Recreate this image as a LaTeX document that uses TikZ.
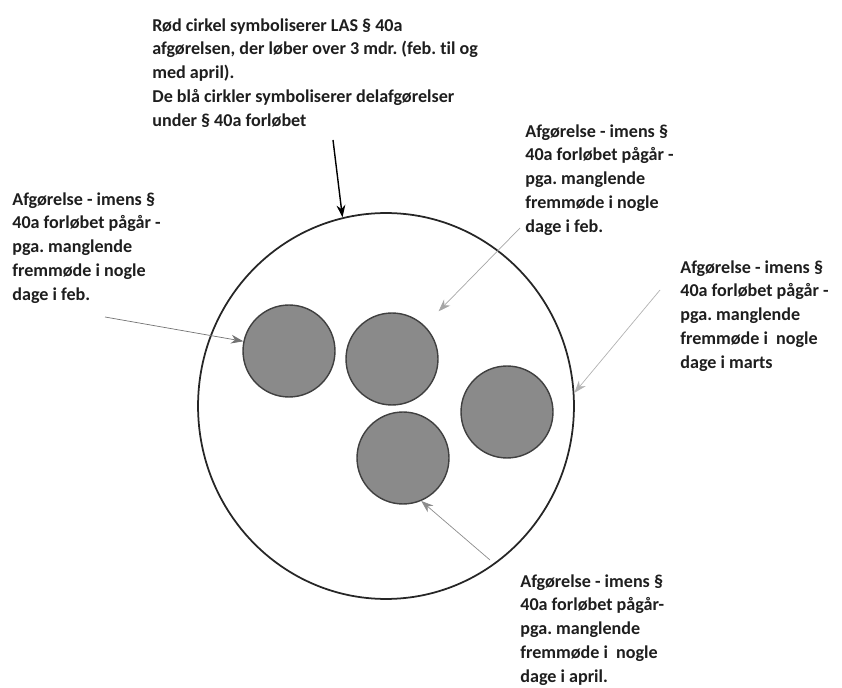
\documentclass[tikz,border=0pt]{standalone}
\usepackage{fontspec}
\setmainfont[Ligatures=NoCommon]{Carlito}
\usetikzlibrary{shapes.geometric, arrows.meta}
\definecolor{textdark}{HTML}{1E1E1E}
\definecolor{discgray}{HTML}{8A8A8A}
\frenchspacing

\begin{document}
\begin{tikzpicture}[x=0.02cm, y=-0.02cm]
      % Styles
      \tikzstyle{note} = [align=left, anchor=north west, inner sep=0pt, text=textdark, font=\bfseries\fontsize{10.3}{13.6}\selectfont]
      \tikzstyle{disc} = [circle, draw=black!75, line width=0.8pt, fill=discgray, minimum size=1.84cm, inner sep=0pt]
      \tikzstyle{pointer} = [-{Stealth[length=7pt, width=5pt]}, thin]

      \useasboundingbox (0, 0) rectangle (842, 688);

      % Big circle (LAS paragraph 40a)
      \node[ellipse, draw=black!85, line width=1pt, minimum width=7.52cm, minimum height=7.72cm, inner sep=0pt] (big) at (386, 406) {};

      % Small circles
      \node[disc] (c1) at (289, 351) {};
      \node[disc] (c2) at (392, 359) {};
      \node[disc] (c3) at (507, 412) {};
      \node[disc] (c4) at (403, 458) {};

      % Texts
      \node[note] (top) at (152, 18) {
        Rød cirkel symboliserer LAS § 40a\\
        afgørelsen, der løber over 3 mdr. (feb. til og\\
        med april).\\
        De blå cirkler symboliserer delafgørelser\\
        under § 40a forløbet
      };
      \node[note] (left) at (12, 192) {
        Afgørelse - imens §\\
        40a forløbet pågår -\\
        pga. manglende\\
        fremmøde i nogle\\
        dage i feb.
      };
      \node[note] (upright) at (525, 124) {
        Afgørelse - imens §\\
        40a forløbet pågår -\\
        pga. manglende\\
        fremmøde i nogle\\
        dage i feb.
      };
      \node[note] (right) at (680, 260) {
        Afgørelse - imens §\\
        40a forløbet pågår -\\
        pga. manglende\\
        fremmøde i~ nogle\\
        dage i marts
      };
      \node[note] (bottom) at (520, 574) {
        Afgørelse - imens §\\
        40a forløbet pågår-\\
        pga. manglende\\
        fremmøde i~ nogle\\
        dage i april.
      };

      % Arrow start points
      \coordinate (ptop) at (333, 140);
      \coordinate (pleft) at (105, 317);
      \coordinate (pupright) at (520, 228);
      \coordinate (pright) at (660, 290);
      \coordinate (pbottom) at (490, 560);

      % Arrows
      \draw[pointer, color=black, line width=0.8pt] (ptop) -- (big.103);
      \draw[pointer, color=black!55] (pleft) -- (c1.168);
      \draw[pointer, color=black!35, shorten >=0.4cm] (pupright) -- (c2);
      \draw[pointer, color=black!30] (pright) -- (big.4);
      \draw[pointer, color=black!45] (pbottom) -- (c4.-67);

    \end{tikzpicture}
\end{document}
